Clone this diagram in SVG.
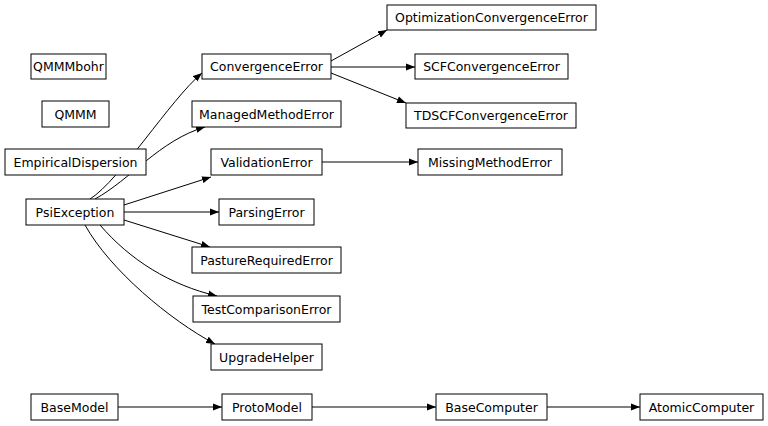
<svg xmlns="http://www.w3.org/2000/svg" width="768" height="426" viewBox="0 0 768 426">
<style>
rect{fill:#fff;stroke:#000;stroke-width:1}
text{font-family:"DejaVu Sans",sans-serif;font-size:12.5px;text-anchor:middle;dominant-baseline:central;fill:#000}
path{fill:none;stroke:#000;stroke-width:1;marker-end:url(#a)}
</style>
<defs><marker id="a" markerWidth="10" markerHeight="8" refX="9" refY="4" orient="auto" markerUnits="userSpaceOnUse"><polygon points="0,0.5 9,4 0,7.5" fill="#000"/></marker></defs>
<rect width="768" height="426" style="stroke:none"/>
<g id="connectors">
<path d="M331,61 L387,30"/>
<path d="M331,67 L415,67"/>
<path d="M331,73 L406,103"/>
<path d="M322,162 L418,162"/>
<path d="M90,199 C120,180 170,100 202,73"/>
<path d="M95,199 C130,180 160,140 205,127"/>
<path d="M124,205 L211,177"/>
<path d="M124,212 L219,212"/>
<path d="M124,220 L210,247"/>
<path d="M100,225 C130,260 170,285 217,296"/>
<path d="M85,225 C110,270 170,320 215,344"/>
<path d="M118,407 L222,407"/>
<path d="M312,407 L436,407"/>
<path d="M547,407 L640,407"/>
</g>
<g id="OptimizationConvergenceError"><rect x="387" y="5" width="209" height="25"/><text x="491.5" y="17.5">OptimizationConvergenceError</text></g>
<g id="QMMMbohr"><rect x="31" y="54" width="75" height="25"/><text x="68.5" y="66.5">QMMMbohr</text></g>
<g id="ConvergenceError"><rect x="202" y="54" width="129" height="25"/><text x="266.5" y="66.5">ConvergenceError</text></g>
<g id="SCFConvergenceError"><rect x="415" y="54" width="153" height="25"/><text x="491.5" y="66.5">SCFConvergenceError</text></g>
<g id="QMMM"><rect x="42" y="101" width="67" height="26"/><text x="75.5" y="114">QMMM</text></g>
<g id="ManagedMethodError"><rect x="192" y="101" width="149" height="26"/><text x="266.5" y="114">ManagedMethodError</text></g>
<g id="TDSCFConvergenceError"><rect x="406" y="103" width="170" height="25"/><text x="491" y="115.5">TDSCFConvergenceError</text></g>
<g id="EmpiricalDispersion"><rect x="5" y="149" width="141" height="26"/><text x="75.5" y="162">EmpiricalDispersion</text></g>
<g id="ValidationError"><rect x="211" y="149" width="111" height="26"/><text x="266.5" y="162">ValidationError</text></g>
<g id="MissingMethodError"><rect x="418" y="149" width="144" height="26"/><text x="490" y="162">MissingMethodError</text></g>
<g id="PsiException"><rect x="26" y="199" width="98" height="26"/><text x="75" y="212">PsiException</text></g>
<g id="ParsingError"><rect x="219" y="199" width="95" height="26"/><text x="266.5" y="212">ParsingError</text></g>
<g id="PastureRequiredError"><rect x="192" y="247" width="149" height="26"/><text x="266.5" y="260">PastureRequiredError</text></g>
<g id="TestComparisonError"><rect x="193" y="296" width="147" height="26"/><text x="266.5" y="309">TestComparisonError</text></g>
<g id="UpgradeHelper"><rect x="211" y="344" width="111" height="26"/><text x="266.5" y="357">UpgradeHelper</text></g>
<g id="BaseModel"><rect x="31" y="394" width="87" height="26"/><text x="74.5" y="407">BaseModel</text></g>
<g id="ProtoModel"><rect x="222" y="394" width="90" height="26"/><text x="267" y="407">ProtoModel</text></g>
<g id="BaseComputer"><rect x="436" y="394" width="111" height="26"/><text x="491.5" y="407">BaseComputer</text></g>
<g id="AtomicComputer"><rect x="640" y="394" width="123" height="26"/><text x="701.5" y="407">AtomicComputer</text></g>
</svg>
